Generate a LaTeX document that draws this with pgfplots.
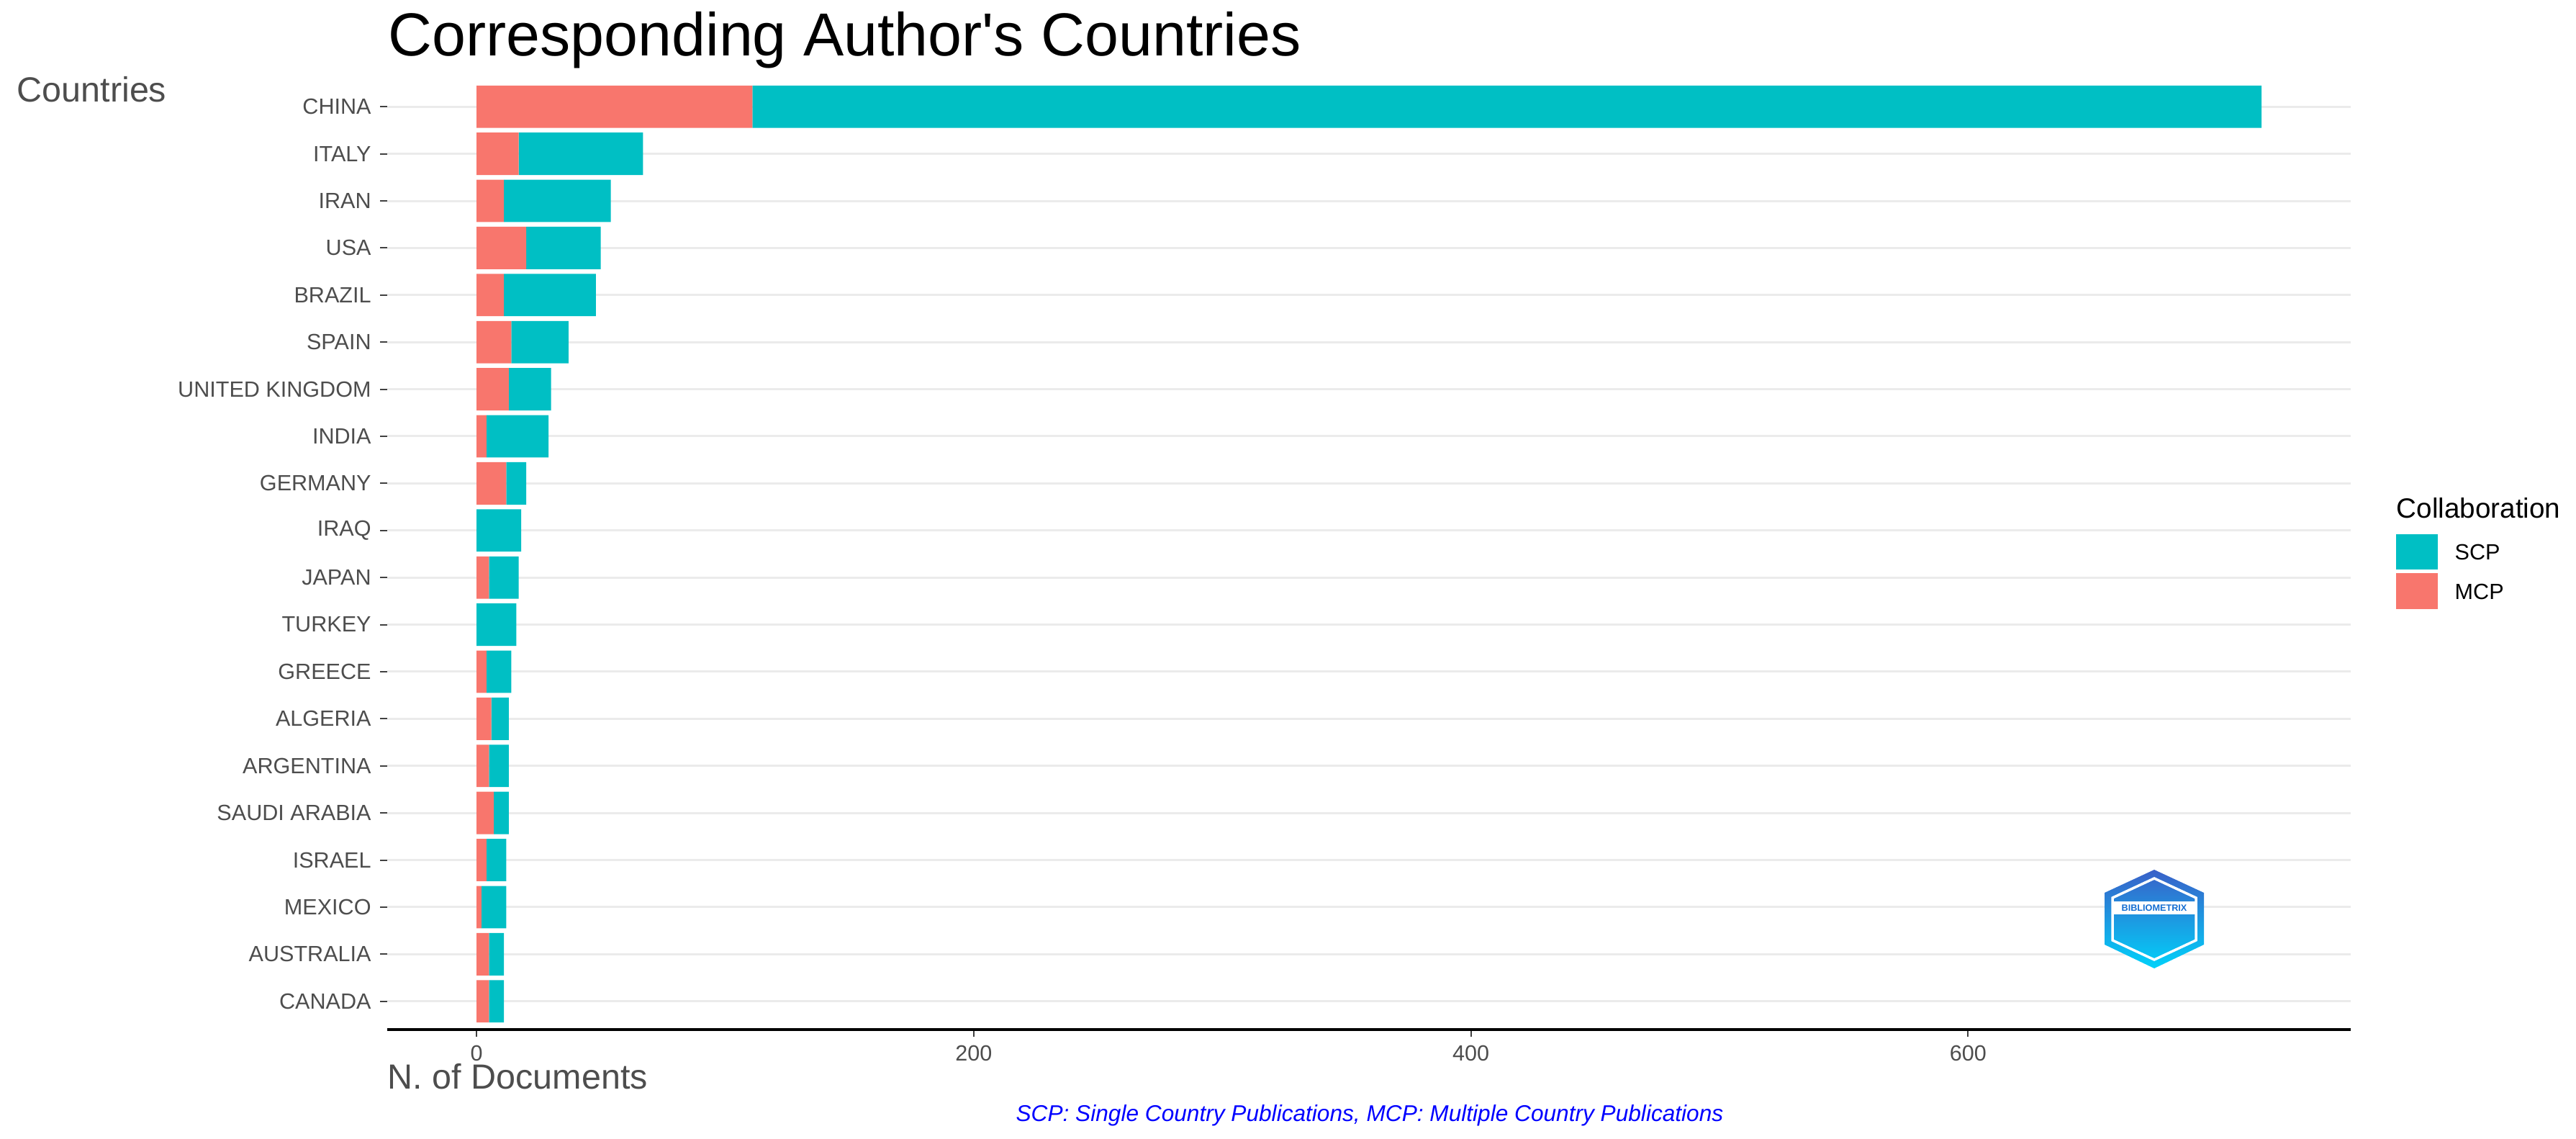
\documentclass[border=0pt]{standalone}
\usepackage{pgfplots}
\pgfplotsset{compat=1.18}
\usepackage{pgfplotstable}
\usepackage{fontspec}
\setmainfont{Liberation Sans}

\definecolor{scp}{HTML}{00BFC4}
\definecolor{mcp}{HTML}{F8766D}
\definecolor{txtgrey}{HTML}{4D4D4D}
\definecolor{gridgrey}{HTML}{EBEBEB}

% y: position (1 = bottom), mcp / scp: number of documents
\pgfplotstableread{
y  mcp scp
20 111 607
19 17  50
18 11  43
17 20  30
16 11  37
15 14  23
14 13  17
13 4   25
12 12  8
11 0   18
10 5   12
9  0   16
8  4   10
7  6   7
6  5   8
5  7   6
4  4   8
3  2   10
2  5   6
1  5   6
}\countries

\begin{document}
\begin{tikzpicture}
\useasboundingbox (0,0) rectangle (357.9mm,158.2mm);
\begin{axis}[
    at={(53.8mm,15.2mm)}, anchor=south west,
    scale only axis, width=272.8mm, height=132.1mm,
    xbar stacked, bar width=0.9,
    xmin=-35.9, xmax=753.9, ymin=0.4, ymax=20.6,
    xtick={0,200,400,600},
    ytick={1,...,20},
    yticklabels={CANADA,AUSTRALIA,MEXICO,ISRAEL,SAUDI ARABIA,ARGENTINA,ALGERIA,GREECE,TURKEY,JAPAN,IRAQ,GERMANY,INDIA,UNITED KINGDOM,SPAIN,BRAZIL,USA,IRAN,ITALY,CHINA},
    axis x line=bottom, axis y line=left,
    x axis line style={-, line width=0.45mm, black},
    y axis line style={draw=none},
    tick align=outside, major tick length=1mm,
    tick style={color=black!75, line width=0.2mm},
    ymajorgrids, grid style={color=gridgrey, line width=0.3mm},
    ticklabel style={font=\fontsize{8.7}{10}\selectfont, text=txtgrey},
    /pgf/number format/assume math mode=true,
]
\addplot[fill=mcp, draw=none] table[x=mcp, y=y] {\countries};
\addplot[fill=scp, draw=none] table[x=scp, y=y] {\countries};
\end{axis}

% titles
\node[anchor=base west, inner sep=0, font=\fontsize{24}{28}\selectfont] at (53.9mm,150.4mm) {Corresponding Author\textquotesingle s Countries};
\node[anchor=base west, inner sep=0, text=txtgrey, font=\fontsize{13.8}{16}\selectfont] at (2.3mm,144.0mm) {Countries};
\node[anchor=base west, inner sep=0, text=txtgrey, font=\fontsize{13.8}{16}\selectfont] at (53.8mm,6.9mm) {N. of Documents};
\node[anchor=base, inner sep=0, text=blue, font=\fontsize{9}{11}\selectfont\itshape] at (190.3mm,2.4mm) {SCP: Single Country Publications, MCP: Multiple Country Publications};

% legend
\node[anchor=base west, inner sep=0, font=\fontsize{11}{13}\selectfont] at (332.9mm,86.2mm) {Collaboration};
\fill[scp] (332.9mm,79.1mm) rectangle (338.7mm,84.0mm);
\fill[mcp] (332.9mm,73.6mm) rectangle (338.7mm,78.6mm);
\node[anchor=west, inner sep=0, font=\fontsize{8.7}{10}\selectfont] at (341.0mm,81.5mm) {SCP};
\node[anchor=west, inner sep=0, font=\fontsize{8.7}{10}\selectfont] at (341.0mm,76.0mm) {MCP};

% logo
\shade[top color={rgb,255:red,58;green,96;blue,200}, bottom color={rgb,255:red,0;green,210;blue,250}]
  (299.3mm,37.4mm) -- (306.2mm,34.2mm) -- (306.2mm,27.0mm) -- (299.3mm,23.7mm) -- (292.4mm,27.0mm) -- (292.4mm,34.2mm) -- cycle;
\draw[white, line width=0.35mm]
  (299.3mm,36.2mm) -- (305.1mm,33.5mm) -- (305.1mm,27.6mm) -- (299.3mm,24.9mm) -- (293.5mm,27.6mm) -- (293.5mm,33.5mm) -- cycle;
\fill[white] (293.4mm,31.2mm) rectangle (305.2mm,33.0mm);
\node[inner sep=0, text={rgb,255:red,20;green,110;blue,210}, font=\fontsize{3.6}{4}\selectfont\bfseries] at (299.3mm,32.1mm) {BIBLIOMETRIX};
\end{tikzpicture}
\end{document}
